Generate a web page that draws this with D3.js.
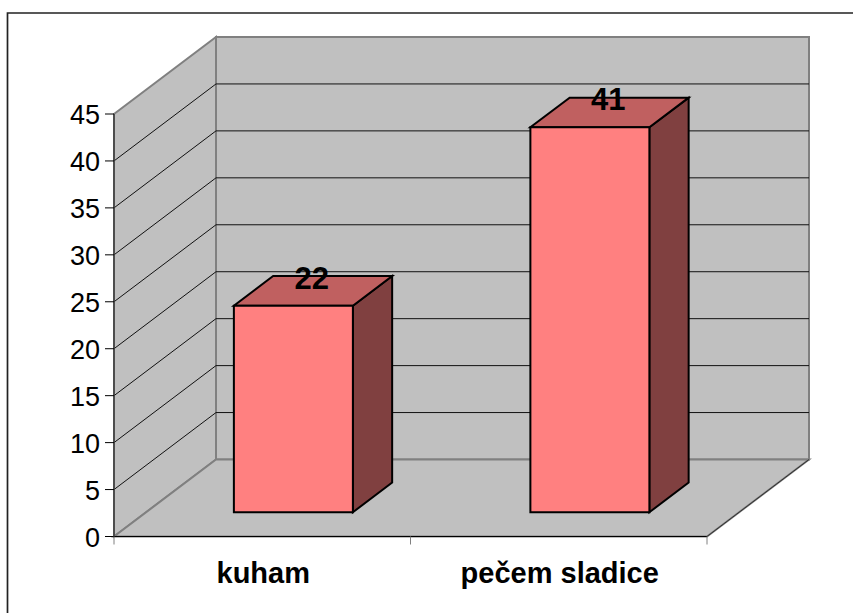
<!DOCTYPE html>
<html><head><meta charset="utf-8">
<script src="https://d3js.org/d3.v7.min.js"></script>
<style>html,body{margin:0;padding:0;background:#fff}svg{display:block}text{font-family:"Liberation Sans",Arial,sans-serif}</style>
</head><body><svg id="c" width="853" height="613"></svg>
<script>
const categories = ["kuham", "pečem sladice"];
const values = [22, 41];
const tickValues = [0, 5, 10, 15, 20, 25, 30, 35, 40, 45];

const svg = d3.select("#c");
const x = d3.scaleBand().domain(categories).range([114, 707]).paddingInner(0).paddingOuter(0);
const y = d3.scaleLinear().domain([0, 45]).range([536.5, 114]);
const depthX = 102, depthY = -77;
const barFrontDepth = 0.315, barBackDepth = 0.70, barWidth = 119;
const pt = (px, py, d) => [px + depthX * d, py + depthY * d];
const poly = pts => "M" + pts.map(p => p.join(",")).join("L") + "Z";

// frame: only the top and left edges show in the picture
svg.append("path").attr("d", "M7.5,613V13H853").attr("fill", "none").attr("stroke", "#222").attr("stroke-width", 1.7);

const x0 = x.range()[0], x1 = x.range()[1], y0 = y(0), yT = y(45);
const wallFill = "#c0c0c0", wallStroke = "#808080";
[[pt(x0,yT,1), pt(x1,yT,1), pt(x1,y0,1), pt(x0,y0,1)],
 [pt(x0,yT,0), pt(x0,yT,1), pt(x0,y0,1), pt(x0,y0,0)],
 [pt(x0,y0,0), pt(x0,y0,1), pt(x1,y0,1), pt(x1,y0,0)]].forEach(q => {
  svg.append("path").attr("d", poly(q)).attr("fill", wallFill).attr("stroke", wallStroke).attr("stroke-width", 2);
});

// gridlines
const grid = svg.append("g").attr("fill", "none").attr("stroke", "#111").attr("stroke-width", 1);
tickValues.filter(t => t > 0 && t < 45).forEach(t => {
  const a = pt(x0, y(t), 0), b = pt(x0, y(t), 1), c = pt(x1, y(t), 1);
  grid.append("path").attr("d", "M" + a + "L" + b + "L" + c);
});

// axis lines
svg.append("line").attr("x1", x0).attr("x2", x0).attr("y1", yT).attr("y2", y0).attr("stroke", "#404040").attr("stroke-width", 1.6);
svg.append("line").attr("x1", x0).attr("x2", x1).attr("y1", y0).attr("y2", y0).attr("stroke", "#000").attr("stroke-width", 1.2);
const fl = pt(x1, y0, 0), fr = pt(x1, y0, 1);
svg.append("line").attr("x1", fl[0]).attr("y1", fl[1]).attr("x2", fr[0]).attr("y2", fr[1]).attr("stroke", "#303030").attr("stroke-width", 1);

// y ticks & labels
const yAxis = svg.append("g");
tickValues.forEach(t => {
  yAxis.append("line").attr("x1", x0 - 9).attr("x2", x0).attr("y1", y(t)).attr("y2", y(t)).attr("stroke", "#000");
  yAxis.append("text").attr("x", x0 - 14).attr("y", y(t) + 10).attr("text-anchor", "end")
    .attr("font-size", 27).attr("fill", "#000").text(t);
});
// x ticks
[x0, x0 + x.step(), x1].forEach(v => {
  svg.append("line").attr("x1", v).attr("x2", v).attr("y1", y0).attr("y2", y0 + 8).attr("stroke", "#808080").attr("stroke-width", 1);
});
categories.forEach(c => {
  svg.append("text").attr("x", x(c) + x.bandwidth() / 2 + 1).attr("y", 583).attr("text-anchor", "middle")
    .attr("font-size", 29).attr("font-weight", "bold").attr("fill", "#000").text(c);
});

// bars
categories.forEach((c, i) => {
  const l = x(c) + x.bandwidth() / 2 - barWidth / 2 - 1, r = l + barWidth;
  const yb = y(0), yt = y(values[i]);
  const g = svg.append("g").attr("stroke", "#000").attr("stroke-width", 2).attr("stroke-linejoin", "miter");
  g.append("path").attr("d", poly([pt(r,yb,barFrontDepth), pt(r,yb,barBackDepth), pt(r,yt,barBackDepth), pt(r,yt,barFrontDepth)])).attr("fill", "#804040");
  g.append("path").attr("d", poly([pt(l,yt,barFrontDepth), pt(r,yt,barFrontDepth), pt(r,yt,barBackDepth), pt(l,yt,barBackDepth)])).attr("fill", "#c06060");
  g.append("path").attr("d", poly([pt(l,yb,barFrontDepth), pt(r,yb,barFrontDepth), pt(r,yt,barFrontDepth), pt(l,yt,barFrontDepth)])).attr("fill", "#ff8080");
  const lab = pt((l + r) / 2, yt, barFrontDepth + 0.18);
  svg.append("text").attr("x", lab[0]).attr("y", lab[1] - 3).attr("text-anchor", "middle")
    .attr("font-size", 31).attr("font-weight", "bold").attr("fill", "#000").text(values[i]);
});
</script></body></html>
